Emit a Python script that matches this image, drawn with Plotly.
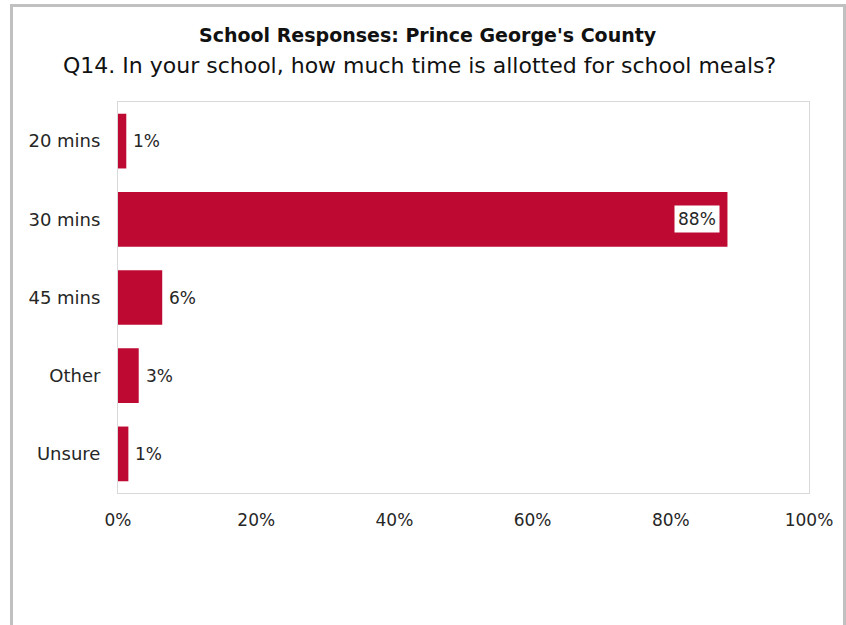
import plotly.graph_objects as go

categories = ["20 mins", "30 mins", "45 mins", "Other", "Unsure"]
values = [1.2, 88.2, 6.4, 3.0, 1.5]
labels = ["1%", "88%", "6%", "3%", "1%"]
x_ticks = [0, 20, 40, 60, 80, 100]
x_tick_labels = ["0%", "20%", "40%", "60%", "80%", "100%"]

title_text = "School Responses: Prince George's County"
subtitle_text = "Q14. In your school, how much time is allotted for school meals?"

W, H = 846, 625
L, R, T, B = 118, 37, 102, 132
PW, PH = W - L - R, H - T - B

def px(xp):
    return (xp - L) / PW

def py(yp):
    return (H - B - yp) / PH

font_family = "DejaVu Sans, sans-serif"
bar_color = "#BE0A33"
text_color = "#262626"

fig = go.Figure()
fig.add_trace(go.Bar(
    x=values, y=categories, orientation="h",
    marker=dict(color=bar_color, line=dict(width=0)),
    hoverinfo="skip",
))

annotations = []
for cat, v, lab in zip(categories, values, labels):
    inside = v > 50
    annotations.append(dict(
        x=v, y=cat, xref="x", yref="y", text=lab, showarrow=False,
        xanchor="right" if inside else "left",
        xshift=-7 if inside else 3,
        font=dict(family=font_family, size=17, color=text_color),
        bgcolor="white" if inside else None,
        borderpad=3,
    ))

annotations.append(dict(
    x=px(428), y=py(35), xref="paper", yref="paper", text="<b>" + title_text + "</b>",
    showarrow=False, xanchor="center", yanchor="middle",
    font=dict(family=font_family, size=19, color="#111111"),
))
annotations.append(dict(
    x=px(419), y=py(66), xref="paper", yref="paper", text=subtitle_text,
    showarrow=False, xanchor="center", yanchor="middle",
    font=dict(family=font_family, size=22, color="#111111"),
))

fig.update_layout(
    width=W, height=H,
    margin=dict(l=L, r=R, t=T, b=B),
    paper_bgcolor="white", plot_bgcolor="white",
    showlegend=False,
    bargap=0.3,
    font=dict(family=font_family, color=text_color),
    xaxis=dict(
        range=[0, 100], tickvals=x_ticks, ticktext=x_tick_labels,
        showgrid=False, zeroline=False, showline=True, mirror=True,
        linecolor="#d9d9d9", linewidth=1, ticks="", ticklabelstandoff=12,
        tickfont=dict(size=17, color=text_color), fixedrange=True,
    ),
    yaxis=dict(
        categoryorder="array", categoryarray=categories, autorange="reversed",
        showgrid=False, zeroline=False, showline=True, mirror=True,
        linecolor="#d9d9d9", linewidth=1, ticks="", ticklabelstandoff=13,
        tickfont=dict(size=18, color=text_color), fixedrange=True,
    ),
    annotations=annotations,
    shapes=[dict(
        type="rect", xref="paper", yref="paper",
        x0=px(11.5), x1=px(844.5), y0=py(660), y1=py(5.5),
        line=dict(color="#c0c0c0", width=3), fillcolor="rgba(0,0,0,0)", layer="below",
    )],
)

fig.write_html(
    "out.html",
    config={"displayModeBar": False},
    post_script="document.body.style.margin='0';document.body.style.overflow='hidden';",
)
